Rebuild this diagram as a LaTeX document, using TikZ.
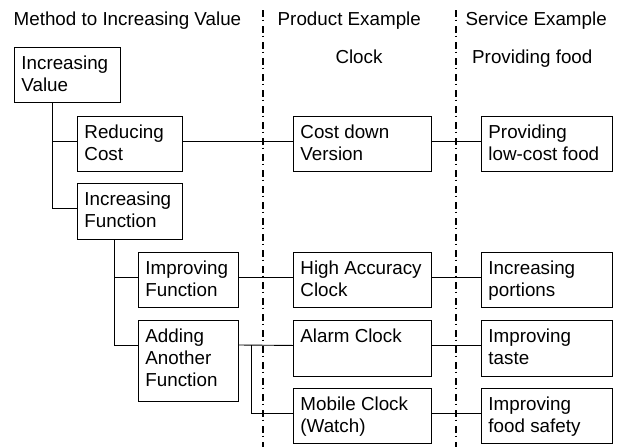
\documentclass[tikz,border=0pt]{standalone}
\usepackage{fontspec}
\setmainfont{Liberation Sans}
\begin{document}
\begin{tikzpicture}[x=1pt,y=-1pt,
  every node/.style={font=\fontsize{18.8}{22}\selectfont},
  box/.style={draw, line width=0.9pt, inner xsep=7pt, inner ysep=0pt, anchor=north west},
  head/.style={inner sep=0pt, anchor=base west},
  link/.style={line width=0.9pt},
  divider/.style={line width=1.2pt, dash pattern=on 6.5pt off 3pt on 1.5pt off 5pt}]
\newcommand\celltext[3]{\parbox[c][#2][t]{\dimexpr#1-14pt\relax}{\raggedright\rule{0pt}{22.5pt}#3}}
\useasboundingbox (0,0) rectangle (620,447);

% column headings
\node[head] (h1) at (13.5,25.7) {Method to Increasing Value};
\node[head] (h2) at (277.5,25.7) {Product Example};
\node[head] (h3) at (465.5,25.7) {Service Example};
\node[head, anchor=base] (h4) at (359,63) {Clock};
\node[head] (h5) at (472,63) {Providing food};

% column dividers
\coordinate (d1a) at (263,10);  \coordinate (d1b) at (263,447);
\coordinate (d2a) at (456,10);  \coordinate (d2b) at (456,447);
\draw[divider] (d1a) -- (d1b);
\draw[divider] (d2a) -- (d2b);

% method tree
\node[box] (iv)   at (14,47)   {\celltext{106pt}{55pt}{Increasing\\Value}};
\node[box] (rc)   at (77,116)  {\celltext{105pt}{55pt}{Reducing\\Cost}};
\node[box] (inf)  at (77,183)  {\celltext{105pt}{56pt}{Increasing\\Function}};
\node[box] (impf) at (138,252) {\celltext{100pt}{55pt}{Improving\\Function}};
\node[box] (aaf)  at (138,320) {\celltext{100pt}{81pt}{Adding\\Another\\Function}};

% product examples
\node[box] (cdv) at (293,116) {\celltext{138pt}{55pt}{Cost down\\Version}};
\node[box] (hac) at (293,252) {\celltext{138pt}{55pt}{High Accuracy\\Clock}};
\node[box] (ac)  at (293,320) {\celltext{138pt}{56pt}{Alarm Clock}};
\node[box] (mc)  at (293,388) {\celltext{138pt}{55pt}{Mobile Clock\\(Watch)}};

% service examples
\node[box] (plf) at (481,116) {\celltext{131pt}{55pt}{Providing\\low-cost food}};
\node[box] (ip)  at (481,252) {\celltext{131pt}{55pt}{Increasing\\portions}};
\node[box] (it)  at (481,320) {\celltext{131pt}{56pt}{Improving\\taste}};
\node[box] (ifs) at (481,388) {\celltext{131pt}{55pt}{Improving\\food safety}};

% tree branches
\coordinate (trunkA) at ([xshift=-15pt]iv.south);
\coordinate (trunkB) at ([xshift=-15.5pt]inf.south);
\coordinate (fork)   at ([xshift=13pt,yshift=-25pt]aaf.north east);
\draw[link] (trunkA) |- ([yshift=2.7pt]inf.west);
\draw[link] ([yshift=3pt]rc.west) -| (trunkA);
\draw[link] (trunkB) |- ([yshift=-25pt]aaf.north west);
\draw[link] ([yshift=2.5pt]impf.west) -| (trunkB);

% links across the columns
\draw[link] ([yshift=3pt]rc.east) -- ([yshift=3pt]cdv.west);
\draw[link] ([yshift=3pt]cdv.east) -- ([yshift=3pt]plf.west);
\draw[link] ([yshift=2.5pt]impf.east) -- ([yshift=2.5pt]hac.west);
\draw[link] ([yshift=2.5pt]hac.east) -- ([yshift=2.5pt]ip.west);
\draw[link] ([yshift=-25pt]aaf.north east) -- ([yshift=3pt]ac.west);
\draw[link] ([yshift=2.5pt]mc.west) -| (fork);
\draw[link] ([yshift=3pt]ac.east) -- ([yshift=3pt]it.west);
\draw[link] ([yshift=2.5pt]mc.east) -- ([yshift=2.5pt]ifs.west);
\end{tikzpicture}
\end{document}
